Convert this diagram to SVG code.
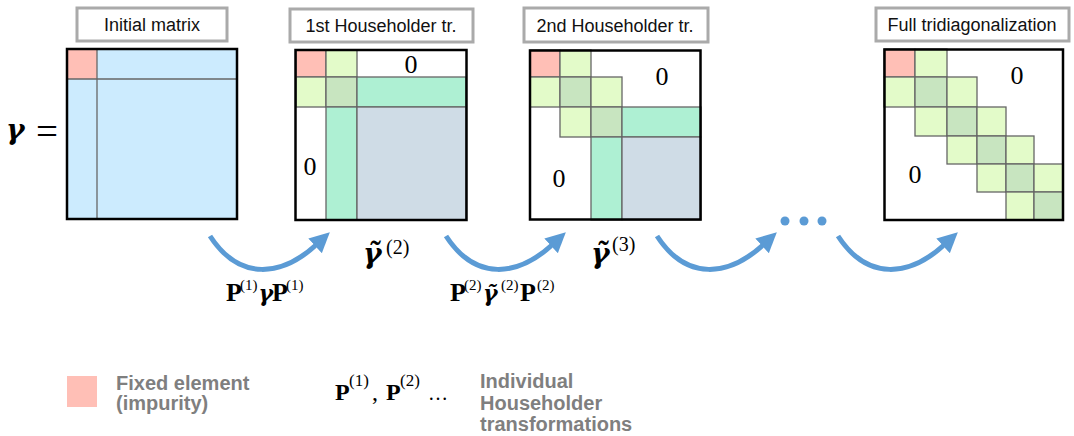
<svg xmlns="http://www.w3.org/2000/svg" width="1074" height="436" viewBox="0 0 1074 436">
<defs>
<style>
.lbl{fill:#fff;stroke:#aaa;stroke-width:3}
.lt{font-family:"Liberation Sans",Arial,sans-serif;font-size:18px;fill:#111;text-anchor:middle}
.frame{fill:none;stroke:#000;stroke-width:2.5}
.c{stroke:#666;stroke-width:1.3}
.pk{fill:#FFBFB6}
.lb{fill:#CCEBFE}
.lg{fill:#E3FBC9}
.dg{fill:#C8E5C0}
.mt{fill:#AEF0D3}
.gb{fill:#CFDCE6}
.z{font-family:"Liberation Serif","Times New Roman",serif;font-size:26px;fill:#000;text-anchor:middle}
.m{font-family:"Liberation Serif","Times New Roman",serif;fill:#000}
.b{font-weight:bold}
.g{font-family:"DejaVu Serif","Liberation Serif",serif;font-weight:bold;font-style:italic;fill:#000}
.leg{font-family:"Liberation Sans",Arial,sans-serif;font-size:20px;font-weight:bold;fill:#7f7f7f}
.arr{fill:none;stroke:#5B9BD5;stroke-width:5}
</style>
<marker id="ah" markerUnits="userSpaceOnUse" markerWidth="20" markerHeight="20" viewBox="0 0 16 16" refX="1" refY="8" orient="auto">
<path d="M0,0 L16,8 L0,16 z" fill="#5B9BD5"/>
</marker>
</defs>

<g id="gamma-eq">
<text class="g" x="6" y="139" font-size="28">γ</text>
<text class="m" x="36" y="145" font-size="39">=</text>
</g>

<g id="m1">
<rect class="lbl" x="77" y="8" width="150" height="33"/>
<text class="lt" x="152" y="31">Initial matrix</text>
<rect class="lb" x="67" y="49" width="170" height="170"/>
<rect class="pk" x="67" y="49" width="30" height="30"/>
<line class="c" x1="97" y1="49" x2="97" y2="219"/>
<line class="c" x1="67" y1="79" x2="237" y2="79"/>
<rect class="frame" x="67" y="49" width="170" height="170"/>
</g>

<g id="m2">
<rect class="lbl" x="290" y="9" width="183" height="33"/>
<text class="lt" x="381" y="32">1st Householder tr.</text>
<rect x="296" y="50" width="170" height="170" fill="#fff"/>
<rect class="c pk" x="296" y="50" width="30" height="27"/>
<rect class="c lg" x="326" y="50" width="31" height="27"/>
<rect class="c lg" x="296" y="77" width="30" height="30"/>
<rect class="c dg" x="326" y="77" width="31" height="30"/>
<rect class="c mt" x="357" y="77" width="109" height="30"/>
<rect class="c mt" x="326" y="107" width="31" height="113"/>
<rect class="c gb" x="357" y="107" width="109" height="113"/>
<rect class="frame" x="295.5" y="50" width="171" height="170"/>
<text class="z" x="411" y="72.5">0</text>
<text class="z" x="310" y="175">0</text>
</g>

<g id="m3">
<rect class="lbl" x="524" y="8" width="184" height="34"/>
<text class="lt" x="615" y="32">2nd Householder tr.</text>
<rect x="530" y="50" width="171" height="170" fill="#fff"/>
<rect class="c pk" x="530" y="50" width="30" height="27"/>
<rect class="c lg" x="560" y="50" width="31" height="27"/>
<rect class="c lg" x="530" y="77" width="30" height="30"/>
<rect class="c dg" x="560" y="77" width="31" height="30"/>
<rect class="c lg" x="591" y="77" width="31" height="30"/>
<rect class="c lg" x="560" y="107" width="31" height="30"/>
<rect class="c dg" x="591" y="107" width="31" height="30"/>
<rect class="c mt" x="622" y="107" width="79" height="30"/>
<rect class="c mt" x="591" y="137" width="31" height="83"/>
<rect class="c gb" x="622" y="137" width="79" height="83"/>
<rect class="frame" x="530" y="50.5" width="170.5" height="169"/>
<text class="z" x="662" y="85">0</text>
<text class="z" x="559" y="187">0</text>
</g>

<g id="dots">
<circle cx="785" cy="221" r="4.5" fill="#5B9BD5"/>
<circle cx="804" cy="221" r="4.5" fill="#5B9BD5"/>
<circle cx="822" cy="221" r="4.5" fill="#5B9BD5"/>
</g>

<g id="m4">
<rect class="lbl" x="876" y="8" width="193" height="33"/>
<text class="lt" x="972" y="31">Full tridiagonalization</text>
<rect x="884" y="49" width="179" height="171" fill="#fff"/>
<rect class="c pk" x="884" y="49" width="31" height="28"/>
<rect class="c lg" x="915" y="49" width="32" height="28"/>
<rect class="c lg" x="884" y="77" width="31" height="30"/>
<rect class="c dg" x="915" y="77" width="32" height="30"/>
<rect class="c lg" x="947" y="77" width="30" height="30"/>
<rect class="c lg" x="915" y="107" width="32" height="29"/>
<rect class="c dg" x="947" y="107" width="30" height="29"/>
<rect class="c lg" x="977" y="107" width="29" height="29"/>
<rect class="c lg" x="947" y="136" width="30" height="28"/>
<rect class="c dg" x="977" y="136" width="29" height="28"/>
<rect class="c lg" x="1006" y="136" width="28" height="28"/>
<rect class="c lg" x="977" y="164" width="29" height="28"/>
<rect class="c dg" x="1006" y="164" width="28" height="28"/>
<rect class="c lg" x="1034" y="164" width="29" height="28"/>
<rect class="c lg" x="1006" y="192" width="28" height="28"/>
<rect class="c dg" x="1034" y="192" width="29" height="28"/>
<rect class="frame" x="884.5" y="49.5" width="178.5" height="170.5"/>
<text class="z" x="1017" y="84">0</text>
<text class="z" x="915" y="183">0</text>
</g>

<g id="connectors">
<path class="arr" d="M210,236 C240,282 282,276 316,245" marker-end="url(#ah)"/>
<path class="arr" d="M210,236 C240,282 282,276 316,245" marker-end="url(#ah)" transform="translate(236,0)"/>
<path class="arr" d="M210,236 C240,282 282,276 316,245" marker-end="url(#ah)" transform="translate(447,0)"/>
<path class="arr" d="M210,236 C240,282 282,276 316,245" marker-end="url(#ah)" transform="translate(628,0)"/>
</g>

<g id="labels">
<text class="g" x="363" y="263" font-size="28">γ̃</text>
<text class="m" x="386" y="254" font-size="20">(2)</text>
<text class="g" x="591" y="263" font-size="28">γ̃</text>
<text class="m" x="612" y="251" font-size="20">(3)</text>

<text class="m b" x="226" y="301" font-size="26">P</text>
<text class="m" x="240" y="290" font-size="15">(1)</text>
<text class="g" x="258.5" y="301" font-size="22">γ</text>
<text class="m b" x="272" y="301" font-size="26">P</text>
<text class="m" x="286" y="290" font-size="15">(1)</text>

<text class="m b" x="450" y="301" font-size="26">P</text>
<text class="m" x="464" y="290" font-size="15">(2)</text>
<text class="g" x="483" y="301" font-size="22">γ̃</text>
<text class="m" x="501" y="290" font-size="15">(2)</text>
<text class="m b" x="520" y="301" font-size="26">P</text>
<text class="m" x="537" y="290" font-size="15">(2)</text>
</g>

<g id="legend">
<rect class="pk" x="67" y="376" width="30" height="31"/>
<text class="leg" x="116" y="390">Fixed element</text>
<text class="leg" x="116" y="410">(impurity)</text>
<text class="m b" x="335" y="400" font-size="24">P</text>
<text class="m" x="349" y="386" font-size="17">(1)</text>
<text class="m" x="372" y="400" font-size="24">,</text>
<text class="m b" x="386" y="400" font-size="24">P</text>
<text class="m" x="400" y="386" font-size="17">(2)</text>
<text class="m" x="428" y="400" font-size="20">…</text>
<text class="leg" x="480" y="388">Individual</text>
<text class="leg" x="480" y="410">Householder</text>
<text class="leg" x="480" y="431">transformations</text>
</g>
</svg>
